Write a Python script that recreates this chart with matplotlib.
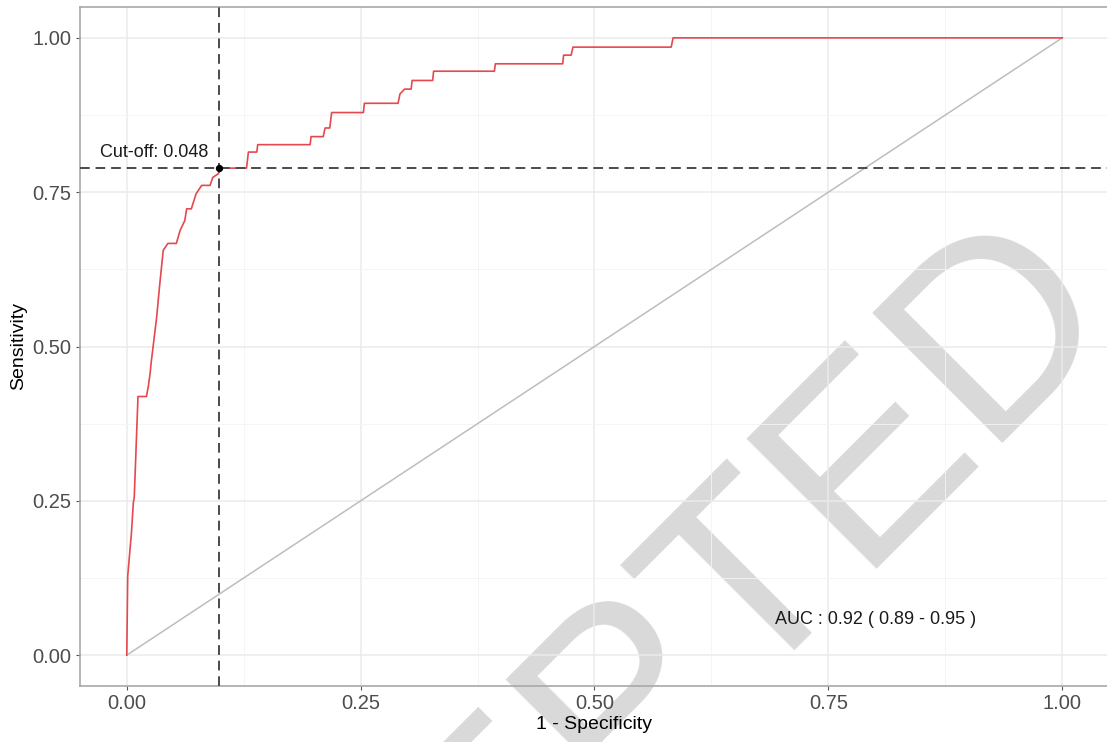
import numpy as np
import matplotlib
matplotlib.use("Agg")
import matplotlib.pyplot as plt

plt.rcParams["font.family"] = ["Liberation Sans", "DejaVu Sans"]

# ROC curve vertices (1 - specificity, sensitivity)
fpr = [0.000, 0.001, 0.005, 0.007, 0.008, 0.012, 0.021, 0.023, 0.025, 0.026,
       0.032, 0.035, 0.039, 0.044, 0.053, 0.057, 0.062, 0.064, 0.069, 0.074,
       0.080, 0.089, 0.092, 0.098, 0.099, 0.128, 0.130, 0.139, 0.140, 0.196,
       0.197, 0.210, 0.212, 0.217, 0.219, 0.253, 0.254, 0.290, 0.292, 0.297,
       0.304, 0.305, 0.327, 0.328, 0.393, 0.394, 0.466, 0.467, 0.475, 0.477,
       0.582, 0.584, 1.000]
tpr = [0.000, 0.128, 0.198, 0.247, 0.256, 0.419, 0.419, 0.435, 0.457, 0.473,
       0.548, 0.597, 0.656, 0.667, 0.667, 0.688, 0.704, 0.723, 0.723, 0.747,
       0.761, 0.761, 0.774, 0.780, 0.789, 0.789, 0.815, 0.815, 0.827, 0.827,
       0.840, 0.840, 0.854, 0.854, 0.879, 0.879, 0.894, 0.894, 0.909, 0.917,
       0.917, 0.931, 0.931, 0.946, 0.946, 0.958, 0.958, 0.972, 0.972, 0.985,
       0.985, 1.000, 1.000]

cut_x, cut_y = 0.099, 0.789
cut_label = "Cut-off: 0.048"
auc_label = "AUC : 0.92 ( 0.89 - 0.95 )"
ticks = [0.0, 0.25, 0.5, 0.75, 1.0]
tick_labels = ["0.00", "0.25", "0.50", "0.75", "1.00"]

W, H = 1107, 742
fig = plt.figure(figsize=(W / 100, H / 100), dpi=100)
ax = fig.add_axes([80 / W, 56 / H, 1029 / W, 679 / H])

ax.set_xlim(-0.05, 1.05)
ax.set_ylim(-0.05, 1.05)

# theme_bw-like grid
ax.set_xticks(ticks)
ax.set_yticks(ticks)
ax.set_xticks([0.125, 0.375, 0.625, 0.875], minor=True)
ax.set_yticks([0.125, 0.375, 0.625, 0.875], minor=True)
ax.grid(which="major", color="#ebebeb", lw=1.1)
ax.grid(which="minor", color="#f4f4f4", lw=0.6)
ax.set_xticklabels(tick_labels)
ax.set_yticklabels(tick_labels)
ax.tick_params(which="major", length=3, width=0.8, color="#555555",
               labelsize=14.5, labelcolor="#4d4d4d", pad=3)
ax.tick_params(which="minor", length=0)
# axis (grid + labels) above the watermark, below the data
ax.xaxis.set_zorder(2.8)
ax.yaxis.set_zorder(2.8)
for s in ax.spines.values():
    s.set_color("#a8a8a8")
    s.set_linewidth(1.2)
    s.set_zorder(2.9)

ax.plot([0, 1], [0, 1], color="#bdbdbd", lw=1.1, zorder=3)
ax.plot(fpr, tpr, color="#e5484d", lw=1.2, zorder=3.5)

ax.axvline(cut_x, color="#4a4a4a", lw=1.4, ls=(0, (5, 3)), zorder=3.6)
ax.axhline(cut_y, color="#4a4a4a", lw=1.4, ls=(0, (5, 3)), zorder=3.6)
ax.scatter([cut_x], [cut_y], s=18, color="black", zorder=4)

ax.text(cut_x - 0.012, cut_y + 0.012, cut_label, ha="right", va="bottom",
        fontsize=13, color="#1a1a1a", zorder=5)
ax.text(0.80, 0.058, auc_label, ha="center", va="center",
        fontsize=13, color="#1a1a1a", zorder=5)

ax.set_xlabel("1 - Specificity", fontsize=14, color="black", labelpad=2)
ax.set_ylabel("Sensitivity", fontsize=14, color="black", labelpad=4)

# watermark
ax.text(1124 / W, 421 / H, "ACCEPTED", transform=fig.transFigure,
        rotation=45, rotation_mode="anchor", ha="right", va="baseline",
        fontsize=192, color="#d9d9d9", clip_on=False, zorder=2.5)

fig.savefig("out.png", dpi=100)
